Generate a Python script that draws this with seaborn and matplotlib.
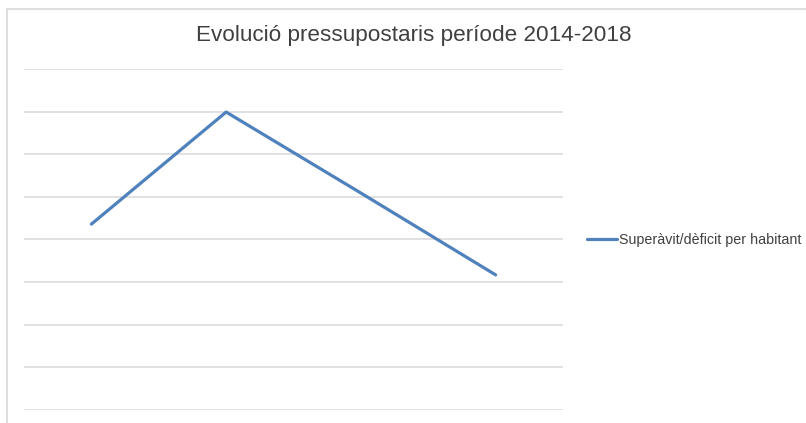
import matplotlib
matplotlib.use("Agg")
import matplotlib.pyplot as plt
import seaborn as sns
import pandas as pd
from matplotlib.patches import Rectangle
from matplotlib.lines import Line2D

years = ["2014", "2015", "2016", "2017"]
values = [4.36, 6.99, 5.09, 3.17]
series_name = "Superàvit/dèficit per habitant"
title = "Evolució pressupostaris període 2014-2018"

df = pd.DataFrame({"Any": years, "Valor": values, "Serie": series_name})

sns.set_theme(style="white")
plt.rcParams["font.family"] = ["Liberation Sans", "DejaVu Sans"]

W, H = 806, 423
fig = plt.figure(figsize=(W / 100, H / 100), dpi=100)
fig.patch.set_facecolor("white")

# outer chart border (only top & left visible)
fig.patches.append(Rectangle((7 / W, -0.1), 1.2, (H - 9) / H + 0.1,
                             transform=fig.transFigure, fill=False,
                             edgecolor="#D9D9D9", linewidth=1.2))

ax = fig.add_axes([24 / W, (H - 410) / H, (563 - 24) / W, (410 - 69) / H])
sns.lineplot(data=df, x="Any", y="Valor", hue="Serie", palette=["#4F81BD"],
             linewidth=2.3, ax=ax, legend=False, sort=False)

ax.set_xlim(-0.5, 3.5)
ax.set_ylim(0, 8)
ax.set_yticks(range(0, 9))
ax.grid(axis="y", color="#D9D9D9", linewidth=1.1)
ax.grid(axis="x", visible=False)
ax.set_xticks([])
ax.set_yticklabels([])
ax.tick_params(left=False, bottom=False)
ax.set_xlabel("")
ax.set_ylabel("")
for s in ax.spines.values():
    s.set_visible(False)

fig.text(413.5 / W, 1 - 36 / H, title, ha="center", va="center",
         fontsize=16.2, color="#404040")

h = Line2D([0], [0], color="#4F81BD", linewidth=2.3)
fig.legend([h], [series_name], loc="center left",
           bbox_to_anchor=(587 / W, 1 - 240 / H), frameon=False,
           fontsize=10.3, handlelength=2.1, handletextpad=0.14,
           labelcolor="#404040", borderaxespad=0, borderpad=0)

fig.savefig("out.png", dpi=100, facecolor="white")
